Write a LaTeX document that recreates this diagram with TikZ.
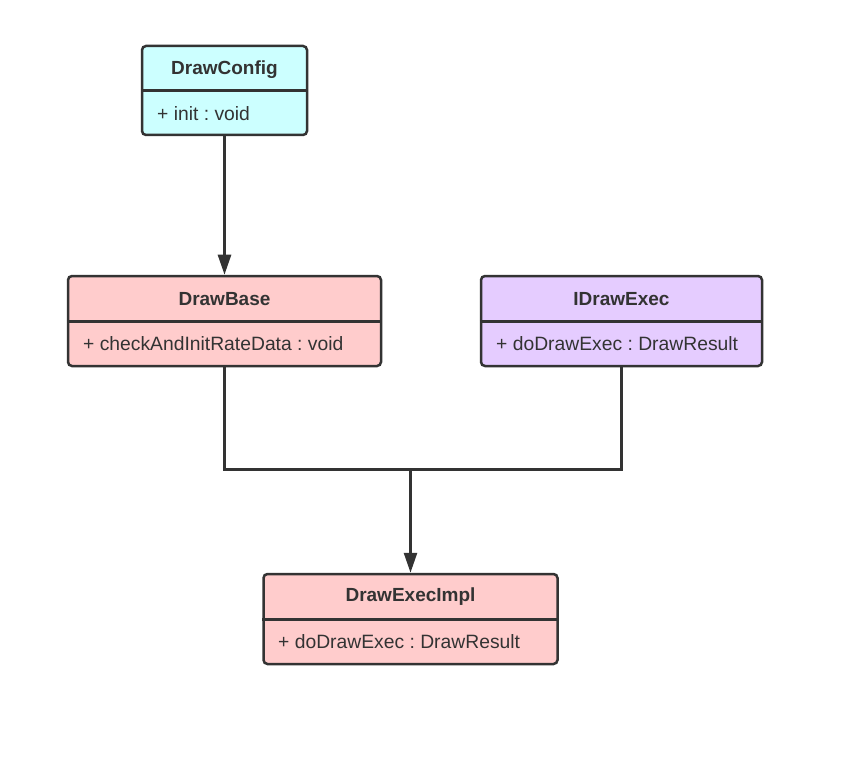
\documentclass[tikz,border=0pt]{standalone}
\usepackage{fontspec}
\setmainfont{Liberation Sans}
\usetikzlibrary{arrows.meta}
\definecolor{lc}{HTML}{333333}
\definecolor{cyanf}{HTML}{CCFFFF}
\definecolor{pinkf}{HTML}{FFCCCC}
\definecolor{purpf}{HTML}{E5CCFF}
\begin{document}
\frenchspacing
\begin{tikzpicture}[x=1pt,y=-1pt,
  classbox/.style={draw=lc,line width=2.5pt,rounded corners=4pt,inner sep=0pt},
  ttl/.style={font=\fontsize{19}{21}\selectfont\bfseries,text=lc,inner sep=0pt},
  attr/.style={font=\fontsize{19.3}{21}\selectfont,text=lc,inner sep=0pt,anchor=west},
  conn/.style={draw=lc,line width=2.6pt},
  arr/.style={conn,-{Triangle[length=20pt,width=13pt]}}]
\useasboundingbox (0,0) rectangle (848,759);
% DrawConfig
\node[classbox,fill=cyanf,minimum width=165pt,minimum height=89pt] (dc) at (224.5,90.5) {};
\draw[lc,line width=2.5pt] (dc.west |- 0,90.5) -- (dc.east |- 0,90.5);
\node[ttl] (dct) at (224.5,70) {DrawConfig};
\node[attr] (dca) at (157,113.5) {+ init : void};
% DrawBase
\node[classbox,fill=pinkf,minimum width=313pt,minimum height=90pt] (db) at (224.5,321) {};
\draw[lc,line width=2.5pt] (db.west |- 0,321.5) -- (db.east |- 0,321.5);
\node[ttl] (dbt) at (224.5,299) {DrawBase};
\node[attr] (dba) at (83,343.5) {+ checkAndInitRateData : void};
% IDrawExec
\node[classbox,fill=purpf,minimum width=281pt,minimum height=90pt] (ide) at (621.5,321) {};
\draw[lc,line width=2.5pt] (ide.west |- 0,321.5) -- (ide.east |- 0,321.5);
\node[ttl] (idet) at (621.5,299) {IDrawExec};
\node[attr] (idea) at (496,343.5) {+ doDrawExec : DrawResult};
% DrawExecImpl
\node[classbox,fill=pinkf,minimum width=294pt,minimum height=90pt] (dei) at (410.5,619) {};
\draw[lc,line width=2.5pt] (dei.west |- 0,619.5) -- (dei.east |- 0,619.5);
\node[ttl] (deit) at (410.5,597) {DrawExecImpl};
\node[attr] (deia) at (278,641.5) {+ doDrawExec : DrawResult};
% connectors
\coordinate (j) at (410.5,469.5);
\draw[arr] (dc.south) -- (db.north);
\draw[conn] (db.south) |- (j);
\draw[conn] (ide.south) |- (j);
\draw[arr] (j) -- (dei.north);
\end{tikzpicture}
\end{document}
